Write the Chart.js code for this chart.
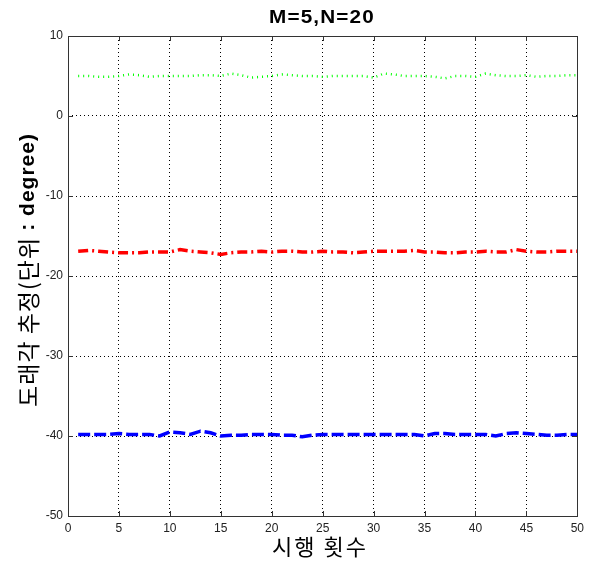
<!DOCTYPE html>
<html>
<head>
<meta charset="utf-8">
<script src="https://cdn.jsdelivr.net/npm/chart.js@4"></script>
<style>
  html, body { margin: 0; padding: 0; background: #fff; }
  #wrap { width: 589px; height: 562px; }
</style>
</head>
<body>
<div id="wrap"><canvas id="myChart"></canvas></div>
<script>
const ctx = document.getElementById('myChart');

const trials = Array.from({ length: 50 }, (_, i) => i + 1);
const green = [5.0, 5.0, 4.9, 4.9, 5.0, 5.2, 5.1, 4.9, 5.0, 5.0, 5.0, 5.0, 5.1, 5.1, 5.0, 5.3, 5.1, 4.8, 4.9, 5.0,
  5.2, 5.1, 5.0, 5.0, 4.9, 5.0, 5.0, 5.0, 5.0, 4.8, 5.3, 5.2, 5.0, 5.0, 5.0, 4.9, 4.7, 5.0, 5.0, 4.9,
  5.3, 5.1, 5.0, 5.0, 5.1, 4.9, 5.0, 5.0, 5.1, 5.1];
const red = [-16.9, -16.8, -16.9, -17.0, -17.1, -17.1, -17.1, -17.0, -17.0, -17.0, -16.7, -16.9, -17.0, -17.1, -17.3, -17.1, -17.0, -17.0, -16.9, -17.0,
  -16.9, -16.9, -17.0, -17.0, -16.9, -17.0, -17.0, -17.1, -17.0, -16.9, -16.9, -16.9, -16.9, -16.8, -17.0, -17.0, -17.1, -17.1, -17.0, -17.0,
  -16.9, -17.0, -17.0, -16.7, -16.9, -17.0, -17.0, -16.9, -16.9, -16.9];
const blue = [-39.8, -39.8, -39.8, -39.8, -39.7, -39.8, -39.8, -39.8, -40.0, -39.5, -39.6, -39.8, -39.4, -39.6, -40.0, -39.9, -39.9, -39.8, -39.8, -39.8,
  -39.9, -39.9, -40.1, -39.9, -39.8, -39.8, -39.8, -39.8, -39.8, -39.8, -39.8, -39.8, -39.8, -39.8, -40.0, -39.7, -39.7, -39.8, -39.8, -39.8,
  -39.8, -40.0, -39.7, -39.6, -39.7, -39.8, -39.9, -39.9, -39.8, -39.8];
const xTicks = [0, 5, 10, 15, 20, 25, 30, 35, 40, 45, 50];
const yTicks = [-50, -40, -30, -20, -10, 0, 10];

const toPts = (ys) => ys.map((y, i) => ({ x: trials[i], y: y }));

// box, inward ticks, title and axis labels like matlab
const decor = {
  id: 'decor',
  afterDraw(chart) {
    const c = chart.ctx;
    const a = chart.chartArea;
    const sx = chart.scales.x, sy = chart.scales.y;
    c.save();
    c.strokeStyle = '#333';
    c.lineWidth = 1;
    c.setLineDash([]);
    c.beginPath();
    xTicks.forEach(v => {
      const px = Math.round(sx.getPixelForValue(v)) + 0.5;
      c.moveTo(px, a.bottom); c.lineTo(px, a.bottom - 5);
      c.moveTo(px, a.top); c.lineTo(px, a.top + 5);
    });
    yTicks.forEach(v => {
      const py = Math.round(sy.getPixelForValue(v)) + 0.5;
      c.moveTo(a.left, py); c.lineTo(a.left + 5, py);
      c.moveTo(a.right, py); c.lineTo(a.right - 5, py);
    });
    c.stroke();
    c.strokeRect(Math.round(a.left) + 0.5, Math.round(a.top) + 0.5, Math.round(a.right - a.left), Math.round(a.bottom - a.top));

    c.fillStyle = '#000';
    c.textAlign = 'center';
    c.textBaseline = 'middle';

    // title, a bit wide like the matlab bitmap font
    c.save();
    c.translate(322, 18);
    c.scale(1.15, 1);
    c.letterSpacing = '1px';
    c.font = 'bold 18px "Liberation Sans", Arial, sans-serif';
    c.fillText('M=5,N=20', 0, 0);
    c.restore();

    c.letterSpacing = '2px';
    c.font = '22px "Noto Sans CJK KR", sans-serif';
    c.fillText('시행 횟수', 320, 547);

    // y label, korean part normal, unit part bold
    c.letterSpacing = '1px';
    c.translate(28, 270);
    c.rotate(-Math.PI / 2);
    const p1 = '도래각 추정(단위 ';
    const p2 = ': degree)';
    const f1 = '23px "Noto Sans CJK KR", sans-serif';
    const f2 = 'bold 21px "Liberation Sans", Arial, sans-serif';
    c.font = f1; const w1 = c.measureText(p1).width;
    c.font = f2; const w2 = c.measureText(p2).width;
    c.textAlign = 'left';
    const x0 = -(w1 + w2) / 2;
    c.font = f1; c.fillText(p1, x0, 0);
    c.font = f2; c.fillText(p2, x0 + w1, 0);
    c.restore();
  }
};

const myChart = new Chart(ctx, {
  type: 'line',
  data: {
    datasets: [
      {
        label: 'green',
        data: toPts(green),
        borderColor: '#00ff00',
        borderWidth: 2.5,
        borderDash: [1, 4],
        pointRadius: 0,
        tension: 0,
      },
      {
        label: 'red',
        data: toPts(red),
        borderColor: '#ff0000',
        borderWidth: 3.5,
        borderDash: [10, 4, 2, 4],
        pointRadius: 0,
        tension: 0,
      },
      {
        label: 'blue',
        data: toPts(blue),
        borderColor: '#0000ff',
        borderWidth: 3.5,
        borderDash: [12, 4],
        pointRadius: 0,
        tension: 0,
      },
    ]
  },
  options: {
    responsive: true,
    maintainAspectRatio: false,
    animation: false,
    events: [],
    layout: {
      padding: { left: 0, right: 8, top: 36, bottom: 0 }
    },
    plugins: {
      legend: { display: false },
      title: { display: false },
      tooltip: { enabled: false },
    },
    scales: {
      x: {
        type: 'linear',
        min: 0,
        max: 50,
        afterBuildTicks: (s) => { s.ticks = xTicks.map(v => ({ value: v })); },
        afterFit: (s) => { s.height = 46; },
        grid: { color: '#000', drawTicks: false, lineWidth: 1 },
        border: { display: false, dash: [1, 3] },
        ticks: {
          padding: 5,
          color: '#222',
          font: { family: '"Liberation Sans", Arial, sans-serif', size: 12 },
          maxRotation: 0,
        },
      },
      y: {
        min: -50,
        max: 10,
        afterBuildTicks: (s) => { s.ticks = yTicks.map(v => ({ value: v })); },
        afterFit: (s) => { s.width = 68; },
        grid: { color: '#000', drawTicks: false, lineWidth: 1 },
        border: { display: false, dash: [1, 3] },
        ticks: {
          padding: 5,
          color: '#222',
          font: { family: '"Liberation Sans", Arial, sans-serif', size: 12 },
        },
      },
    },
  },
  plugins: [decor],
});
</script>
</body>
</html>
